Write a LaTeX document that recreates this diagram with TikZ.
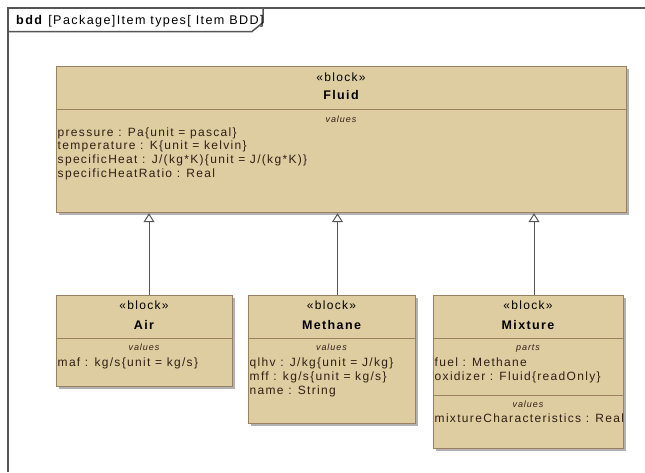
\documentclass[tikz,border=0pt]{standalone}
\usepackage{fontspec}
\setmainfont{Liberation Sans}[LetterSpace=11]
\usetikzlibrary{arrows.meta,shadows}
\definecolor{blockfill}{RGB}{221,205,160}
\definecolor{blockline}{RGB}{155,128,98}
\definecolor{attrtext}{RGB}{50,30,22}
\definecolor{framegray}{RGB}{85,85,85}
\definecolor{shade}{RGB}{178,178,178}

\begin{document}
\begin{tikzpicture}[x=1pt,y=-1pt,
  blockbox/.style={draw=blockline, line width=1.2pt, fill=blockfill, anchor=north west,
    inner sep=0pt, general shadow={fill=shade, shadow xshift=2.5pt, shadow yshift=-2.5pt}},
  compsep/.style={draw=blockline, line width=1pt},
  frameline/.style={draw=framegray, line width=1.5pt},
  stereo/.style={anchor=base, inner sep=0pt, font=\fontsize{12}{14}\selectfont},
  blockname/.style={anchor=base, inner sep=0pt, font=\fontsize{12.5}{14}\selectfont\bfseries},
  complabel/.style={anchor=base, inner sep=0pt, text=attrtext, font=\fontsize{9}{10}\selectfont\itshape},
  attr/.style={anchor=base west, inner sep=0pt, text=attrtext, font=\fontsize{12}{14}\selectfont},
  gen/.style={draw=framegray, line width=1pt, -{Triangle[open, length=9pt, width=11pt, fill=white]}},
]
\useasboundingbox (0,0) rectangle (645,472);

% diagram frame with its name tab
\draw[frameline] (8,472) -- (8,8) -- (645,8);
\draw[frameline] (8,31.5) -- (252,31.5) -- (263,22.5) -- (263,8);
\node[anchor=base west, inner sep=0pt, font=\fontsize{12.6}{14}\selectfont] (title) at (16,24)
  {\textbf{bdd} [Package]Item types[ Item BDD]};

% Fluid
\node[blockbox, minimum width=570, minimum height=146] (fluid) at (56,66) {};
\draw[compsep] (56,109.5) -- (626,109.5);
\node[stereo] (fluidst) at (341,81) {«block»};
\node[blockname] (fluidnm) at (341,99.5) {Fluid};
\node[complabel] (fluidval) at (341,122) {values};
\node[attr] (fa1) at (57.5,136) {pressure : Pa\{unit = pascal\}};
\node[attr] (fa2) at (57.5,149.7) {temperature : K\{unit = kelvin\}};
\node[attr] (fa3) at (57.5,163.4) {specificHeat : J/(kg*K)\{unit = J/(kg*K)\}};
\node[attr] (fa4) at (57.5,177.1) {specificHeatRatio : Real};

% Air
\node[blockbox, minimum width=176, minimum height=91] (air) at (56,295) {};
\draw[compsep] (56,338) -- (232,338);
\node[stereo] (airst) at (144,309.5) {«block»};
\node[blockname] (airnm) at (144,329.5) {Air};
\node[complabel] (airval) at (144,350) {values};
\node[attr] (aa1) at (57.5,366) {maf : kg/s\{unit = kg/s\}};

% Methane
\node[blockbox, minimum width=167, minimum height=128] (methane) at (248,295) {};
\draw[compsep] (248,338) -- (415,338);
\node[stereo] (methst) at (331.5,309.5) {«block»};
\node[blockname] (methnm) at (331.5,329.5) {Methane};
\node[complabel] (methval) at (331.5,350) {values};
\node[attr] (ma1) at (249.5,366.5) {qlhv : J/kg\{unit = J/kg\}};
\node[attr] (ma2) at (249.5,380.5) {mff : kg/s\{unit = kg/s\}};
\node[attr] (ma3) at (249.5,394.5) {name : String};

% Mixture
\node[blockbox, minimum width=190, minimum height=153] (mixture) at (433,295) {};
\draw[compsep] (433,338) -- (623,338);
\draw[compsep] (433,395) -- (623,395);
\node[stereo] (mixst) at (528,309.5) {«block»};
\node[blockname] (mixnm) at (528,329.5) {Mixture};
\node[complabel] (mixparts) at (528,350) {parts};
\node[attr] (xa1) at (434.5,366) {fuel : Methane};
\node[attr] (xa2) at (434.5,380) {oxidizer : Fluid\{readOnly\}};
\node[complabel] (mixval) at (528,407.5) {values};
\node[attr] (xa3) at (434.5,422) {mixtureCharacteristics : Real};

% generalizations
\coordinate (airtop) at (149,295);
\coordinate (methtop) at (337.5,295);
\coordinate (mixtop) at (534,295);
\draw[gen] (airtop) -- (airtop |- fluid.south);
\draw[gen] (methtop) -- (methtop |- fluid.south);
\draw[gen] (mixtop) -- (mixtop |- fluid.south);
\end{tikzpicture}
\end{document}
